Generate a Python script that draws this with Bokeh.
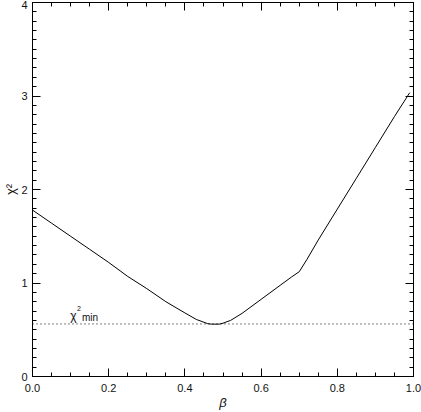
from bokeh.plotting import figure
from bokeh.models import (SingleIntervalTicker, NumeralTickFormatter, LinearAxis,
                          Span, Label, Range1d, CustomLabelingPolicy)
from bokeh.embed import file_html
from bokeh.resources import INLINE

# data
beta = [0.0, 0.05, 0.10, 0.15, 0.20, 0.25, 0.30, 0.35, 0.40, 0.43, 0.45, 0.46,
        0.47, 0.49, 0.50, 0.52, 0.55, 0.60, 0.65, 0.68, 0.70, 0.72, 0.75, 0.80,
        0.85, 0.90, 0.95, 0.99]
chi2 = [1.78, 1.64, 1.50, 1.36, 1.22, 1.07, 0.94, 0.80, 0.68, 0.61, 0.58, 0.565,
        0.56, 0.56, 0.57, 0.60, 0.675, 0.825, 0.975, 1.065, 1.12, 1.25, 1.46, 1.79,
        2.12, 2.45, 2.78, 3.035]
chi2_min = 0.562
x_ticks_interval = 0.2
y_ticks_interval = 1

FONT = "Liberation Sans"
TXT = "#111111"

p = figure(width=421, height=412, x_range=Range1d(0, 1), y_range=Range1d(0, 4),
           output_backend="svg", toolbar_location=None, title=None,
           min_border_left=32, min_border_right=8, min_border_top=2,
           min_border_bottom=34)
p.grid.visible = False
p.outline_line_color = "black"
p.outline_line_width = 1
p.background_fill_color = "white"
p.border_fill_color = "white"

xt = SingleIntervalTicker(interval=x_ticks_interval, num_minor_ticks=4)
yt = SingleIntervalTicker(interval=y_ticks_interval, num_minor_ticks=10)


def style(ax, ticker):
    ax.ticker = ticker
    ax.major_tick_in = 8
    ax.major_tick_out = 0
    ax.minor_tick_in = 4
    ax.minor_tick_out = 0
    ax.axis_line_color = "black"
    ax.major_tick_line_color = "black"
    ax.minor_tick_line_color = "black"
    ax.major_label_text_font = FONT
    ax.major_label_text_color = TXT
    ax.major_label_text_font_size = "11px"
    ax.axis_label_text_font = FONT
    ax.axis_label_text_color = TXT
    ax.axis_label_text_font_size = "13px"


xa = p.xaxis[0]
style(xa, xt)
xa.formatter = NumeralTickFormatter(format="0.0")
xa.major_label_standoff = 7
xa.axis_label = "β"
xa.axis_label_text_font_style = "italic"
xa.axis_label_standoff = 0

ya = p.yaxis[0]
style(ya, yt)
ya.major_label_standoff = 5
ya.axis_label = "χ²"
ya.axis_label_text_font_style = "normal"
ya.axis_label_standoff = 0

no_labels = "for (const i of indices) { if (i < 0) yield i }"
top = LinearAxis(major_label_policy=CustomLabelingPolicy(code=no_labels))
style(top, xt)
top.major_label_standoff = 0
top.major_label_text_font_size = "0px"
p.add_layout(top, "above")
right = LinearAxis(major_label_policy=CustomLabelingPolicy(code=no_labels))
style(right, yt)
right.major_label_standoff = 0
right.major_label_text_font_size = "0px"
p.add_layout(right, "right")

p.line(beta, chi2, line_color="black", line_width=1)
p.add_layout(Span(location=chi2_min, dimension="width", line_color="black",
                  line_dash="1 3", line_width=1))

# chi^2_min annotation
p.add_layout(Label(x=0.099, y=0.649, text="χ", text_font=FONT, text_font_size="12px",
                   text_baseline="alphabetic", text_color=TXT))
p.add_layout(Label(x=0.117, y=0.723, text="2", text_font=FONT, text_font_size="7px",
                   text_baseline="alphabetic", text_color=TXT))
p.add_layout(Label(x=0.130, y=0.628, text="min", text_font=FONT, text_font_size="10px",
                   text_baseline="alphabetic", text_color=TXT))

open("out.html", "w").write(file_html(p, INLINE))
